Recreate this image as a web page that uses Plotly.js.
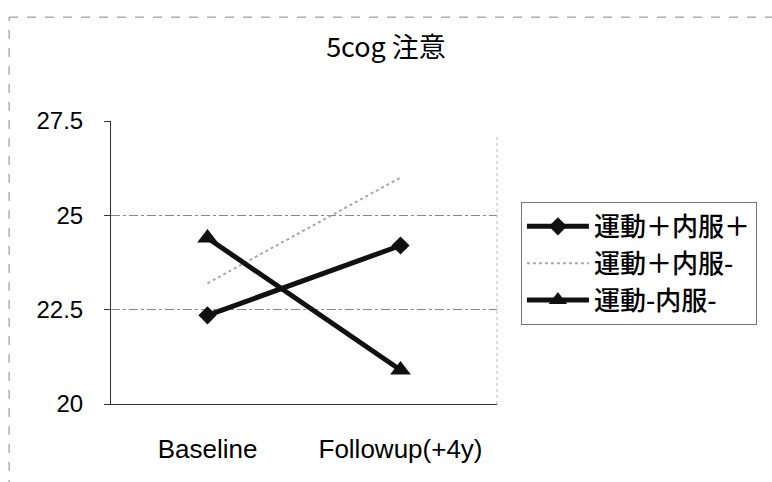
<!DOCTYPE html>
<html>
<head>
<meta charset="utf-8">
<script src="https://cdn.plot.ly/plotly-3.0.1.min.js"></script>
<style>
  html, body { margin: 0; padding: 0; background: #fff; }
  #chart { width: 772px; height: 482px; }
</style>
</head>
<body>
<div id="chart"></div>
<script>
// Time points
const categories = ['Baseline', 'Followup(+4y)'];

// Group names
const groupNames = ['運動＋内服＋', '運動＋内服-', '運動-内服-'];

// 5cog attention scores per group
const exPlusMedPlus = [22.35, 24.2];
const exPlusMedMinus = [23.2, 26.0];
const exMinusMedMinus = [24.4, 20.9];

// Y axis ticks
const yTicks = [20, 22.5, 25, 27.5];
const yTickText = ['20', '22.5', '25', '27.5'];

const jpFont = '"Noto Sans CJK JP", "Liberation Sans", sans-serif';
const numFont = '"Liberation Sans", Arial, sans-serif';

const traces = [
  {
    x: categories, y: exPlusMedPlus, name: groupNames[0],
    mode: 'lines+markers', type: 'scatter',
    line: { color: '#111', width: 5 },
    marker: { symbol: 'diamond', size: 14, color: '#111' }
  },
  {
    x: categories, y: exPlusMedMinus, name: groupNames[1],
    mode: 'lines', type: 'scatter',
    line: { color: '#a8a8a8', width: 2, dash: 'dot' }
  },
  {
    x: categories, y: exMinusMedMinus, name: groupNames[2],
    mode: 'lines+markers', type: 'scatter',
    line: { color: '#111', width: 5 },
    marker: { symbol: 'triangle-up', size: 18, color: '#111' }
  }
];

// Outer chart frame (dashed, top and left edges)
const frame = [
  { type: 'line', xref: 'paper', yref: 'paper', x0: -0.264, x1: 1.75, y0: 1.367, y1: 1.367,
    line: { color: '#888', width: 1, dash: 'dash' } },
  { type: 'line', xref: 'paper', yref: 'paper', x0: -0.264, x1: -0.264, y0: -0.3, y1: 1.367,
    line: { color: '#888', width: 1, dash: 'dash' } },
  // faint right edge of plot area
  { type: 'line', xref: 'paper', yref: 'paper', x0: 1, x1: 1, y0: 0, y1: 0.95,
    line: { color: '#bbb', width: 1, dash: 'dot' } }
];

const layout = {
  width: 772, height: 482,
  margin: { l: 111, r: 275, t: 121, b: 78 },
  paper_bgcolor: '#fff', plot_bgcolor: '#fff',
  showlegend: true,
  title: {
    text: '5cog 注意',
    font: { family: jpFont, size: 27, color: '#000' },
    x: 0.5, xref: 'container', xanchor: 'center',
    y: 0.902, yref: 'container', yanchor: 'middle'
  },
  xaxis: {
    type: 'category', range: [-0.5, 1.5],
    showgrid: false, zeroline: false,
    showline: true, linecolor: '#333', linewidth: 1,
    ticks: '', ticklabelstandoff: 22,
    tickfont: { family: numFont, size: 26, color: '#000' },
    fixedrange: true
  },
  yaxis: {
    range: [20, 27.5],
    tickvals: yTicks, ticktext: yTickText,
    showgrid: true, gridcolor: '#888', griddash: 'dashdot', gridwidth: 1,
    zeroline: false,
    showline: true, linecolor: '#333', linewidth: 1,
    ticks: 'outside', ticklen: 6, tickcolor: '#333',
    ticklabelstandoff: 16,
    tickfont: { family: numFont, size: 24, color: '#000' },
    fixedrange: true
  },
  legend: {
    x: 1.062, xanchor: 'left', y: 0.714, yanchor: 'top',
    bgcolor: '#fff', bordercolor: '#777', borderwidth: 1,
    font: { family: jpFont, size: 26, color: '#000', weight: 500 },
    itemwidth: 62, tracegroupgap: 0
  },
  shapes: frame
};

Plotly.newPlot('chart', traces, layout, { displayModeBar: false, staticPlot: true });
</script>
</body>
</html>
